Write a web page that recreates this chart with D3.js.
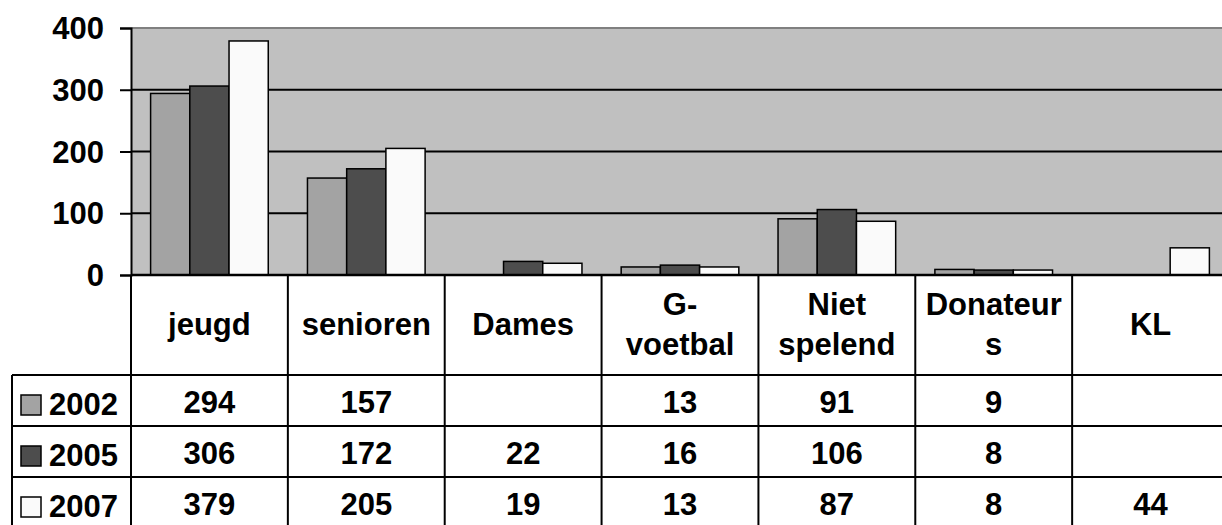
<!DOCTYPE html>
<html>
<head>
<meta charset="utf-8">
<script src="https://cdn.jsdelivr.net/npm/d3@7"></script>
<style>
  body { margin: 0; background: #fff; overflow: hidden; }
  svg text { font-family: "Liberation Sans", Arial, sans-serif; font-weight: bold; fill: #000; }
</style>
</head>
<body>
<div id="chart"></div>
<script>
// data
const categories = ["jeugd", "senioren", "Dames", "G-voetbal", "Niet spelend", "Donateurs", "KL"];
const headerLines = [["jeugd"], ["senioren"], ["Dames"], ["G-", "voetbal"], ["Niet", "spelend"], ["Donateur", "s"], ["KL"]];
const years = ["2002", "2005", "2007"];
const v2002 = [294, 157, null, 13, 91, 9, null];
const v2005 = [306, 172, 22, 16, 106, 8, null];
const v2007 = [379, 205, 19, 13, 87, 8, 44];
const yTicks = [0, 100, 200, 300, 400];
const colors = ["#a3a3a3", "#4d4d4d", "#fafafa"];

const series = [v2002, v2005, v2007];

const W = 1222, H = 525;
const fontSize = 31;
// the original chart runs a little past the right edge of the picture
const plotLeft = 131, plotRight = 1229, plotTop = 28, plotBottom = 275;
const headerBottom = 375, rowH = 51, legendLeft = 12;

const svg = d3.select("#chart").append("svg")
    .attr("width", W)
    .attr("height", H);

const x = d3.scaleBand().domain(categories).range([plotLeft, plotRight]).paddingInner(0).paddingOuter(0);
const x1 = d3.scaleBand().domain(years).range([0, x.bandwidth()]).paddingOuter(0.5).paddingInner(0);
const y = d3.scaleLinear().domain([0, 400]).range([plotBottom, plotTop]);

// plot area
svg.append("rect")
    .attr("x", plotLeft).attr("y", plotTop)
    .attr("width", plotRight - plotLeft).attr("height", plotBottom - plotTop)
    .attr("fill", "#c0c0c0");
svg.append("line")
    .attr("x1", plotLeft).attr("x2", plotRight)
    .attr("y1", plotTop).attr("y2", plotTop)
    .attr("stroke", "#808080").attr("stroke-width", 2);

// gridlines
svg.selectAll("line.grid")
    .data(yTicks.filter(d => d > 0 && d < 400))
    .enter().append("line")
    .attr("class", "grid")
    .attr("x1", plotLeft).attr("x2", plotRight)
    .attr("y1", d => y(d)).attr("y2", d => y(d))
    .attr("stroke", "#000").attr("stroke-width", 2);

// bars
const rows = [];
categories.forEach((c, i) => {
    series.forEach((s, k) => {
        if (s[i] !== null) rows.push({cat: c, year: years[k], value: s[i], k: k});
    });
});

svg.selectAll("rect.bar")
    .data(rows)
    .enter().append("rect")
    .attr("class", "bar")
    .attr("x", d => x(d.cat) + x1(d.year))
    .attr("y", d => y(d.value))
    .attr("width", x1.bandwidth())
    .attr("height", d => y(0) - y(d.value))
    .attr("fill", d => colors[d.k])
    .attr("stroke", "#000")
    .attr("stroke-width", 1.5);

// y axis
const yAxis = svg.append("g")
    .attr("transform", `translate(${plotLeft},0)`)
    .call(d3.axisLeft(y).tickValues(yTicks).tickSize(11).tickPadding(16));
yAxis.select(".domain").attr("stroke", "#000").attr("stroke-width", 2);
yAxis.selectAll(".tick line").attr("stroke", "#000").attr("stroke-width", 2);
yAxis.selectAll(".tick text")
    .attr("font-size", fontSize)
    .attr("font-family", "Liberation Sans, Arial, sans-serif")
    .attr("font-weight", "bold")
    .attr("fill", "#000")
    .attr("dy", "0.34em");

// table
const tableBottom = headerBottom + rowH * years.length;
const t = svg.append("g").attr("class", "table");

// horizontal lines
t.append("line")
    .attr("x1", plotLeft).attr("x2", plotRight)
    .attr("y1", plotBottom).attr("y2", plotBottom)
    .attr("stroke", "#000").attr("stroke-width", 2.5);
t.selectAll("line.hrow")
    .data(d3.range(years.length + 1))
    .enter().append("line")
    .attr("class", "hrow")
    .attr("x1", legendLeft).attr("x2", plotRight)
    .attr("y1", d => headerBottom + d * rowH).attr("y2", d => headerBottom + d * rowH)
    .attr("stroke", "#000").attr("stroke-width", 2);

// vertical lines
t.selectAll("line.vcol")
    .data(categories.map(c => x(c)).concat([plotRight]))
    .enter().append("line")
    .attr("class", "vcol")
    .attr("x1", d => d).attr("x2", d => d)
    .attr("y1", plotBottom).attr("y2", tableBottom)
    .attr("stroke", "#000").attr("stroke-width", 2);
t.append("line")
    .attr("x1", legendLeft).attr("x2", legendLeft)
    .attr("y1", headerBottom).attr("y2", tableBottom)
    .attr("stroke", "#000").attr("stroke-width", 2);

// header labels
const headerMid = (plotBottom + headerBottom) / 2;
categories.forEach((c, i) => {
    const lines = headerLines[i];
    lines.forEach((ln, j) => {
        t.append("text")
            .attr("x", x(c) + x.bandwidth() / 2)
            .attr("y", headerMid + 10 + (j - (lines.length - 1) / 2) * 40)
            .attr("text-anchor", "middle")
            .attr("font-size", fontSize)
            .text(ln);
    });
});

// legend cells + values
years.forEach((yr, k) => {
    const top = headerBottom + k * rowH;
    t.append("rect")
        .attr("x", 21).attr("y", top + 20)
        .attr("width", 20).attr("height", 20)
        .attr("fill", colors[k])
        .attr("stroke", "#000").attr("stroke-width", 1.5);
    t.append("text")
        .attr("x", 49).attr("y", top + 40)
        .attr("font-size", fontSize)
        .text(yr);
    t.selectAll(null)
        .data(categories.map((c, i) => ({cat: c, value: series[k][i]})).filter(d => d.value !== null))
        .enter().append("text")
        .attr("x", d => x(d.cat) + x.bandwidth() / 2)
        .attr("y", top + 38)
        .attr("text-anchor", "middle")
        .attr("font-size", fontSize)
        .text(d => d.value);
});
</script>
</body>
</html>
